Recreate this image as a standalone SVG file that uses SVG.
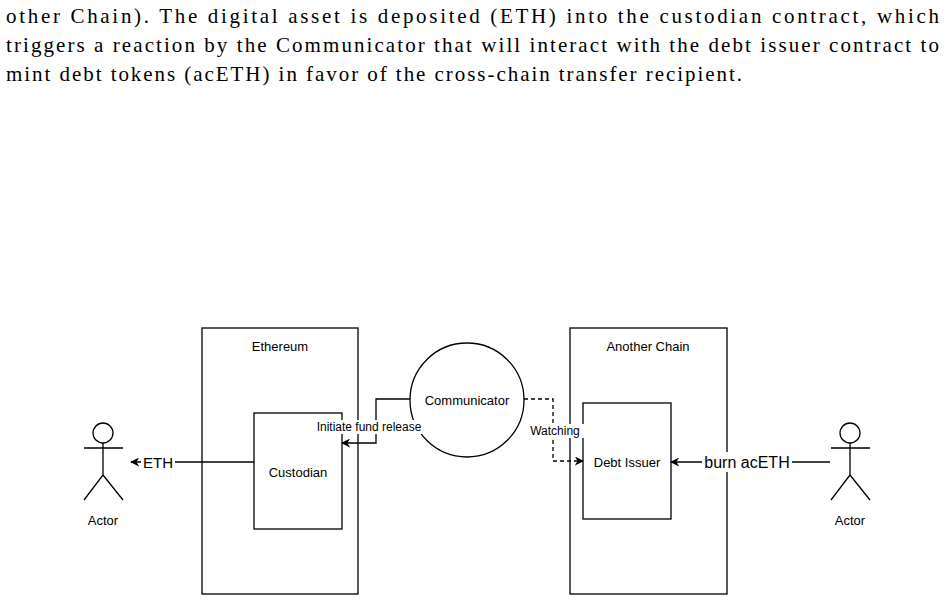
<svg xmlns="http://www.w3.org/2000/svg" width="947" height="602" viewBox="0 0 947 602">
<style>
.p{font-family:"Liberation Serif",serif;font-size:21px;fill:#000}
.l{font-family:"Liberation Sans",Arial,sans-serif;font-size:13px;fill:#000;text-anchor:middle;dominant-baseline:central}
.s{fill:#fff;stroke:#000;stroke-width:1.3}
.c{fill:none;stroke:#000;stroke-width:1.3}
</style>
<defs><marker id="a" viewBox="0 0 10 10" refX="9" refY="5" markerWidth="9" markerHeight="9" orient="auto" markerUnits="userSpaceOnUse"><path d="M0,0 L10,5 L0,10 L3,5 Z" fill="#000"/></marker></defs>
<rect width="947" height="602" fill="#fff"/>
<g id="paragraph">
<text class="p" x="6" y="23" textLength="933" lengthAdjust="spacing">other Chain).  The digital asset is deposited (ETH) into the custodian contract, which</text>
<text class="p" x="6" y="52" textLength="933" lengthAdjust="spacing">triggers a reaction by the Communicator that will interact with the debt issuer contract to</text>
<text class="p" x="6" y="81" textLength="736" lengthAdjust="spacing">mint debt tokens (acETH) in favor of the cross-chain transfer recipient.</text>
</g>
<g id="ethereum"><rect class="s" x="202" y="328" width="156" height="266"/><text class="l" x="280" y="346">Ethereum</text></g>
<g id="another-chain"><rect class="s" x="570" y="328" width="157" height="266"/><text class="l" x="648" y="346">Another Chain</text></g>
<g id="custodian"><rect class="s" x="254" y="413" width="88" height="116"/><text class="l" x="298" y="472">Custodian</text></g>
<g id="debt-issuer"><rect class="s" x="583" y="403" width="88" height="116"/><text class="l" x="627" y="462">Debt Issuer</text></g>
<g id="communicator"><circle class="s" cx="467" cy="400" r="57"/><text class="l" x="467" y="400">Communicator</text></g>
<g id="actor-left" class="c"><circle cx="103" cy="433" r="10"/><path d="M84,448 H123 M103,443 V475 L84,500 M103,475 L123,500"/></g>
<text class="l" x="103" y="520">Actor</text>
<g id="actor-right" class="c"><circle cx="850" cy="433" r="10"/><path d="M831,448 H870 M850,443 V475 L831,500 M850,475 L870,500"/></g>
<text class="l" x="850" y="520">Actor</text>
<g id="connectors">
<path class="c" d="M254,462 H131" marker-end="url(#a)"/>
<rect x="141" y="454" width="34" height="16" fill="#fff"/>
<text class="l" x="158" y="462" style="font-size:15px">ETH</text>
<path class="c" d="M410,399 H376 V443 H342" marker-end="url(#a)"/>
<rect x="306" y="420" width="126" height="14" fill="#fff"/>
<text class="l" x="369" y="427" style="font-size:12px">Initiate fund release</text>
<path class="c" d="M524,399 H553 V461 H583" stroke-dasharray="4 3" marker-end="url(#a)"/>
<rect x="526" y="424" width="58" height="14" fill="#fff"/>
<text class="l" x="555" y="431" style="font-size:12px">Watching</text>
<path class="c" d="M830,462 H671" marker-end="url(#a)"/>
<rect x="702" y="452" width="90" height="20" fill="#fff"/>
<text class="l" x="747" y="462" style="font-size:16px">burn acETH</text>
</g>
</svg>
